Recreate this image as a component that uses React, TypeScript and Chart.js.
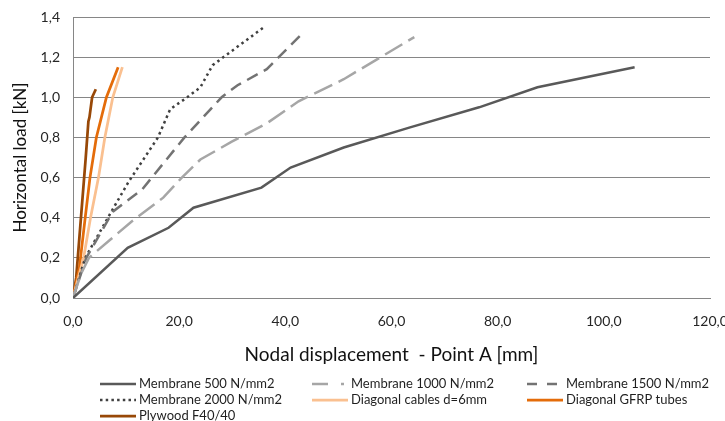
import React, { useEffect, useRef } from "react";
import { Chart, registerables } from "chart.js";

Chart.register(...registerables);

// [displacement mm, load kN]
const membrane500: [number, number][] = [
  [0, 0], [10.3, 0.25], [18, 0.35], [22.7, 0.45], [35.5, 0.55], [41, 0.65],
  [51, 0.75], [63.5, 0.85], [76.5, 0.95], [87.5, 1.05], [105.8, 1.15],
];
const membrane1000: [number, number][] = [
  [0, 0], [1.5, 0.12], [3, 0.2], [7, 0.29], [11, 0.38], [17, 0.5], [20.5, 0.6],
  [24, 0.69], [30, 0.78], [36.5, 0.87], [42.5, 0.98], [51, 1.09], [64.3, 1.3],
];
const membrane1500: [number, number][] = [
  [0, 0], [2.5, 0.2], [7.5, 0.43], [13, 0.54], [21, 0.8], [28, 1.0],
  [31, 1.06], [36.5, 1.14], [43.3, 1.32],
];
const membrane2000: [number, number][] = [
  [0, 0], [2.3, 0.2], [7, 0.42], [10.5, 0.58], [16, 0.8], [18.3, 0.94],
  [21.5, 1.0], [24, 1.05], [26.3, 1.16], [36, 1.35],
];
const diagonalCables: [number, number][] = [
  [0, 0], [2, 0.2], [3.3, 0.4], [4.8, 0.6], [6, 0.8], [7.5, 1.0], [9.3, 1.15],
];
const diagonalGfrp: [number, number][] = [
  [0, 0], [1.2, 0.15], [2.3, 0.4], [3.2, 0.6], [4.4, 0.8], [6.3, 1.0], [8.5, 1.15],
];
const plywood: [number, number][] = [
  [0, 0], [0.6, 0.1], [1.5, 0.4], [2.4, 0.7], [2.9, 0.88], [3.1, 0.9], [3.6, 1.0], [4.3, 1.04],
];

const seriesNames = [
  "Membrane 500 N/mm2",
  "Membrane 1000 N/mm2",
  "Membrane 1500 N/mm2",
  "Membrane 2000 N/mm2",
  "Diagonal cables d=6mm",
  "Diagonal GFRP tubes",
  "Plywood F40/40",
];
const seriesData = [membrane500, membrane1000, membrane1500, membrane2000, diagonalCables, diagonalGfrp, plywood];

const xTitle = "Nodal displacement  - Point A [mm]";
const yTitle = "Horizontal load [kN]";
const xMax = 120;
const xStep = 20;
const yMax = 1.4;
const yStep = 0.2;

const colors = ["#595959", "#a6a6a6", "#737373", "#404040", "#fac090", "#e46c0a", "#984807"];
const widths = [2.5, 2.5, 2.5, 2.5, 2.75, 2.75, 2.75];
const dashes: number[][] = [[], [20, 7], [12, 7], [2.5, 3.5], [], [], []];
const legendDashes: number[][] = [[], [16, 13, 3, 30], [10, 10], [2.5, 3.2], [], [], []];

const FONT = "Lato, 'Open Sans', sans-serif";
const fmt = (v: number) => Number(v).toFixed(1).replace(".", ",");

const legendPlugin = {
  id: "customLegend",
  afterDraw(chart: any) {
    const ctx = chart.ctx as CanvasRenderingContext2D;
    const colX = [100, 312, 527];
    const rowY = [384, 400, 416];
    ctx.save();
    ctx.font = `13px ${FONT}`;
    ctx.textBaseline = "middle";
    ctx.fillStyle = "#1f1f1f";
    seriesNames.forEach((name, i) => {
      const x = colX[i % 3];
      const y = rowY[Math.floor(i / 3)];
      ctx.beginPath();
      ctx.strokeStyle = colors[i];
      ctx.lineWidth = widths[i];
      ctx.setLineDash(legendDashes[i]);
      ctx.moveTo(x, y);
      ctx.lineTo(x + 36, y);
      ctx.stroke();
      ctx.setLineDash([]);
      ctx.fillText(name, x + 39, y);
    });
    ctx.restore();
  },
};

export default function App() {
  const ref = useRef<HTMLCanvasElement | null>(null);
  useEffect(() => {
    if (!ref.current) return;
    const chart = new Chart(ref.current, {
      type: "line",
      data: {
        datasets: seriesData.map((d, i) => ({
          label: seriesNames[i],
          data: d.map(([x, y]) => ({ x, y })),
          borderColor: colors[i],
          backgroundColor: colors[i],
          borderWidth: widths[i],
          borderDash: dashes[i],
          pointRadius: 0,
          tension: 0,
          fill: false,
        })),
      },
      options: {
        animation: false,
        responsive: false,
        maintainAspectRatio: false,
        layout: { padding: { left: 0, top: 17, right: 15, bottom: 53 } },
        plugins: { legend: { display: false }, tooltip: { enabled: false } },
        scales: {
          x: {
            type: "linear",
            min: 0,
            max: xMax,
            ticks: {
              stepSize: xStep,
              padding: 15,
              color: "#262626",
              font: { family: FONT, size: 14 },
              callback: (v: any) => fmt(v),
              maxRotation: 0,
            },
            grid: { display: false, drawTicks: false },
            border: { display: true, color: "#868686", width: 1 },
            title: {
              display: true,
              text: xTitle,
              color: "#111111",
              font: { family: FONT, size: 19 },
              padding: { top: 0, bottom: 2 },
            },
            afterFit: (s: any) => {
              s.height = 70;
              s.paddingLeft = 0;
              s.paddingRight = 0;
            },
          },
          y: {
            type: "linear",
            min: 0,
            max: yMax,
            ticks: {
              stepSize: yStep,
              padding: 13,
              color: "#262626",
              font: { family: FONT, size: 14 },
              callback: (v: any) => fmt(v),
            },
            grid: { display: true, color: "#868686", lineWidth: 1, drawTicks: false },
            border: { display: true, color: "#868686", width: 1 },
            title: {
              display: true,
              text: yTitle,
              color: "#111111",
              font: { family: FONT, size: 17 },
              padding: { top: 10, bottom: 0 },
            },
            afterFit: (s: any) => {
              s.width = 73;
              s.paddingTop = 0;
              s.paddingBottom = 0;
            },
          },
        },
      },
      plugins: [legendPlugin],
    } as any);
    return () => chart.destroy();
  }, []);
  return (
    <div style={{ position: "absolute", left: 0, top: 0, width: 725, height: 421, background: "#fff" }}>
      <canvas ref={ref} width={725} height={421} style={{ display: "block" }} />
    </div>
  );
}
